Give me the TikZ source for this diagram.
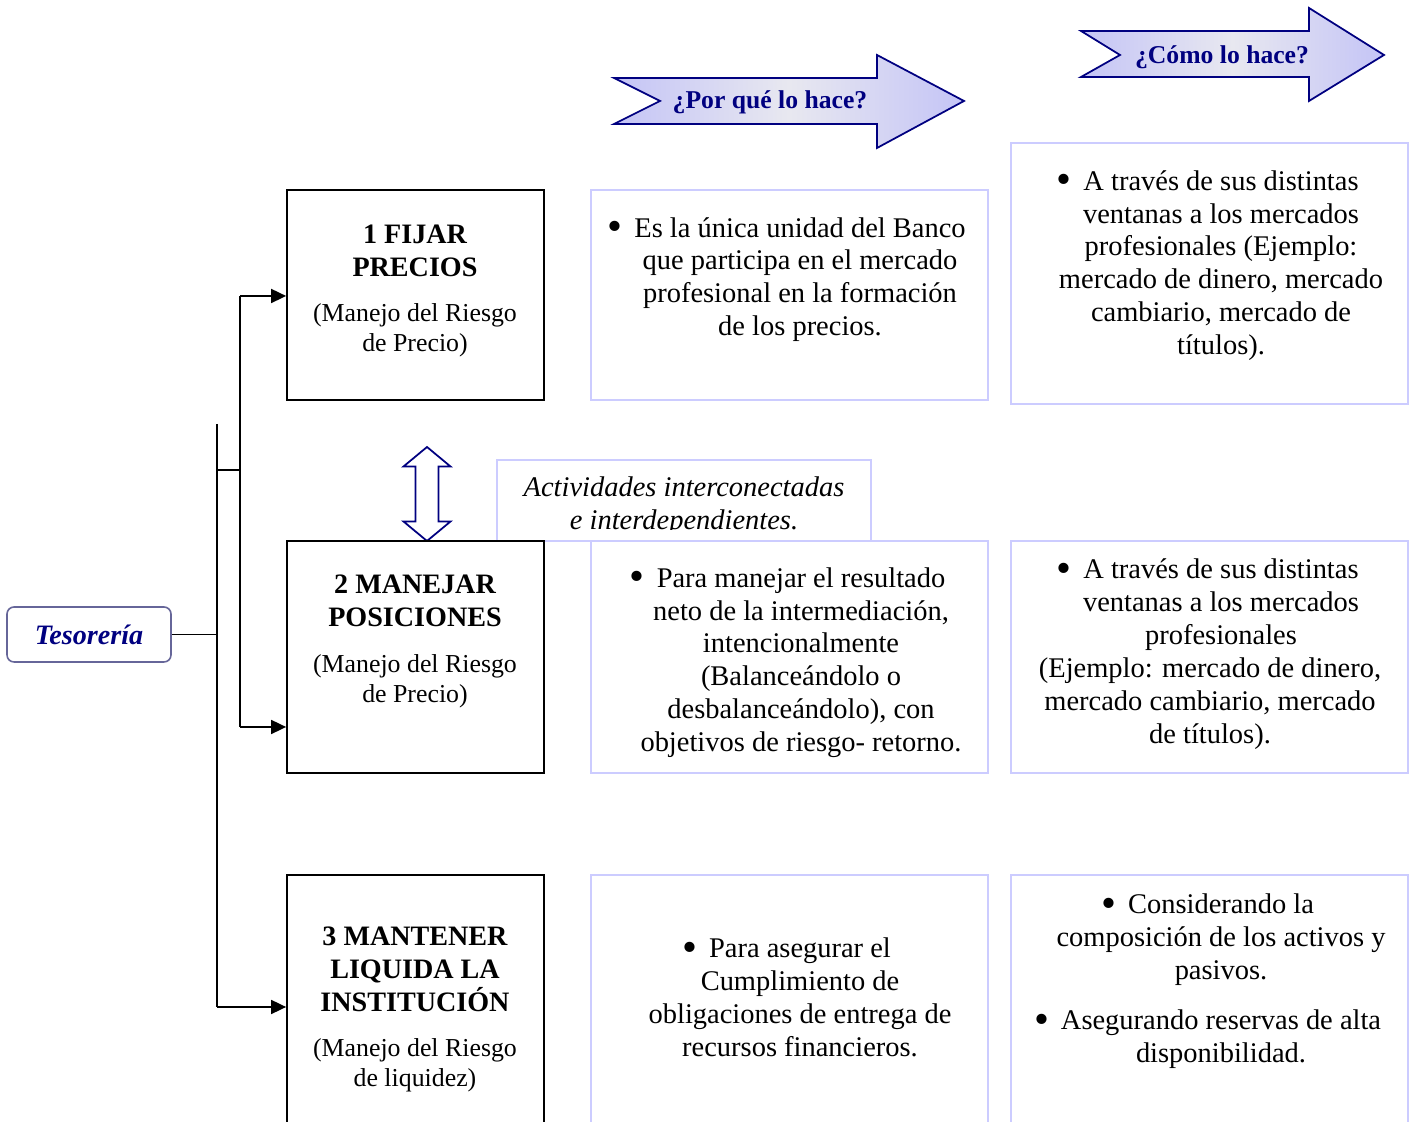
\documentclass[tikz,border=0pt]{standalone}
\usepackage{fontspec}
\setmainfont{Liberation Serif}
\usepackage{xcolor}
\usetikzlibrary{arrows.meta}
\definecolor{TsNavy}{HTML}{000080}
\definecolor{TsLine}{HTML}{CCCCFF}
\definecolor{TsEdge}{HTML}{C4C4F6}
\definecolor{TsMid}{HTML}{E8E8F0}
\definecolor{TsGrey}{HTML}{666699}
\newcommand{\tsbul}{\llap{\raisebox{-0.12em}{\scalebox{1.5}{\textbullet}}\hspace{0.24cm}}}

\begin{document}
\begin{tikzpicture}[x=1cm,y=1cm,
  blackbox/.style={draw=black,line width=1pt,fill=white,minimum width=5.14cm,inner sep=0pt},
  lightbox/.style={draw=TsLine,line width=1pt,fill=white,minimum width=7.94cm,inner sep=0pt},
  bodytext/.style={align=center,inner sep=0pt,font=\fontsize{16.2}{18.7}\selectfont},
  boxtitle/.style={align=center,inner sep=0pt,font=\fontsize{16}{18.7}\selectfont\bfseries},
  boxsub/.style={align=center,inner sep=0pt,font=\fontsize{14.7}{17}\selectfont},
  arrowtext/.style={inner sep=0pt,text=TsNavy,font=\fontsize{14.6}{17}\selectfont\bfseries},
  wire/.style={line width=1pt},
  linkarrow/.style={line width=1pt,-{Triangle[length=3mm,width=2.8mm]}}]
\path[use as bounding box] (0,0) rectangle (28.24,22.44);
\clip (0,0) rectangle (28.24,22.44);

% banner arrows
\shadedraw[draw=TsNavy,line width=1pt,left color=TsEdge,right color=TsEdge,middle color=TsMid]
  (12.28,20.88) -- (17.54,20.88) -- (17.54,21.34) -- (19.28,20.42) -- (17.54,19.48)
  -- (17.54,19.96) -- (12.28,19.96) -- (13.20,20.42) -- cycle;
\node[arrowtext] (porque) at (15.40,20.40) {¿Por qué lo hace?};
\shadedraw[draw=TsNavy,line width=1pt,left color=TsEdge,right color=TsEdge,middle color=TsMid]
  (21.62,21.82) -- (26.18,21.82) -- (26.18,22.28) -- (27.68,21.34) -- (26.18,20.42)
  -- (26.18,20.90) -- (21.62,20.90) -- (22.40,21.34) -- cycle;
\node[arrowtext] (como) at (24.44,21.30) {¿Cómo lo hace?};

% note between rows
\node[draw=TsLine,line width=1pt,fill=white,minimum width=7.48cm,minimum height=1.62cm,inner sep=0pt] (actv) at (13.68,12.43) {};
\begin{scope}
\clip (9.94,11.84) rectangle (17.42,13.24);
\node[align=center,inner sep=0pt,font=\fontsize{16.2}{18.5}\selectfont\itshape] (actvtext) at (13.68,12.32) {Actividades interconectadas\\e interdependientes.};
\end{scope}

% double arrow
\draw[TsNavy,line width=1pt,fill=white] (8.54,13.50) -- (9.01,13.11) -- (8.77,13.11) -- (8.77,12.01) -- (9.01,12.01)
  -- (8.54,11.62) -- (8.07,12.01) -- (8.31,12.01) -- (8.31,13.11) -- (8.07,13.11) -- cycle;

% activity boxes
\node[blackbox,minimum height=4.20cm] (fijar) at (8.31,16.54) {};
\node[blackbox,minimum height=4.64cm] (manejar) at (8.31,9.30) {};
\node[blackbox,minimum height=5.44cm] (mantener) at (8.31,2.22) {};
\node[boxtitle] (fijarT) at (8.30,17.42) {1 FIJAR\\PRECIOS};
\node[boxsub] (fijarS) at (8.30,15.84) {(Manejo del Riesgo\\de Precio)};
\node[boxtitle] (manejarT) at (8.30,10.42) {2 MANEJAR\\POSICIONES};
\node[boxsub] (manejarS) at (8.30,8.82) {(Manejo del Riesgo\\de Precio)};
\node[boxtitle] (mantenerT) at (8.30,3.05) {3 MANTENER\\LIQUIDA LA\\INSTITUCIÓN};
\node[boxsub] (mantenerS) at (8.30,1.14) {(Manejo del Riesgo\\de liquidez)};

% why / how boxes
\node[lightbox,minimum height=4.20cm] (porqueA) at (15.79,16.54) {};
\node[lightbox,minimum height=5.22cm] (comoA) at (24.19,16.97) {};
\node[lightbox,minimum height=4.64cm] (porqueB) at (15.79,9.30) {};
\node[lightbox,minimum height=4.64cm] (comoB) at (24.19,9.30) {};
\node[lightbox,minimum height=5.44cm] (porqueC) at (15.79,2.22) {};
\node[lightbox,minimum height=5.44cm] (comoC) at (24.19,2.22) {};

\node[bodytext] (porqueAt) at (16.00,16.85) {\tsbul Es la única unidad del Banco\\que participa en el mercado\\profesional en la formación\\de los precios.};
\node[bodytext] (comoAt) at (24.42,17.13) {\tsbul A través de sus distintas\\ventanas a los mercados\\profesionales (Ejemplo:\\mercado de dinero, mercado\\cambiario, mercado de\\títulos).};
\node[bodytext] (porqueBt) at (16.02,9.19) {\tsbul Para manejar el resultado\\neto de la intermediación,\\intencionalmente\\(Balanceándolo o\\desbalanceándolo), con\\objetivos de riesgo- retorno.};
\node[bodytext] (comoBt) at (24.42,10.34) {\tsbul A través de sus distintas\\ventanas a los mercados\\profesionales};
\node[bodytext] (comoBu) at (24.20,8.36) {(Ejemplo: mercado de dinero,\\mercado cambiario, mercado\\de títulos).};
\node[bodytext] (porqueCt) at (16.00,2.49) {\tsbul Para asegurar el\\Cumplimiento de\\obligaciones de entrega de\\recursos financieros.};
\node[bodytext] (comoCt) at (24.42,3.64) {\tsbul Considerando la\\composición de los activos y\\pasivos.};
\node[bodytext] (comoCu) at (24.42,1.65) {\tsbul Asegurando reservas de alta\\disponibilidad.};

% root and tree
\node[draw=TsGrey,line width=0.9pt,rounded corners=4pt,fill=white,minimum width=3.28cm,minimum height=1.10cm,
  text=TsNavy,font=\fontsize{16}{19}\selectfont\bfseries\itshape] (tes) at (1.78,9.75) {Tesorería\hspace{0.2cm}};
\coordinate (busAtop) at (4.34,13.96);
\coordinate (busAbot) at (4.34,2.30);
\coordinate (fork) at (4.34,13.04);
\coordinate (busBtop) at (4.80,16.52);
\coordinate (busBbot) at (4.80,7.90);
\draw[wire] (tes.east) -- (tes.east -| busAtop);
\draw[wire] (busAtop) -- (busAbot);
\draw[wire] (fork) -- (fork -| busBtop);
\draw[wire] (busBtop) -- (busBbot);
\draw[linkarrow] (busBtop) -- (fijar.west |- busBtop);
\draw[linkarrow] (busBbot) -- (manejar.west |- busBbot);
\draw[linkarrow] (busAbot) -- (mantener.west |- busAbot);
\end{tikzpicture}
\end{document}
